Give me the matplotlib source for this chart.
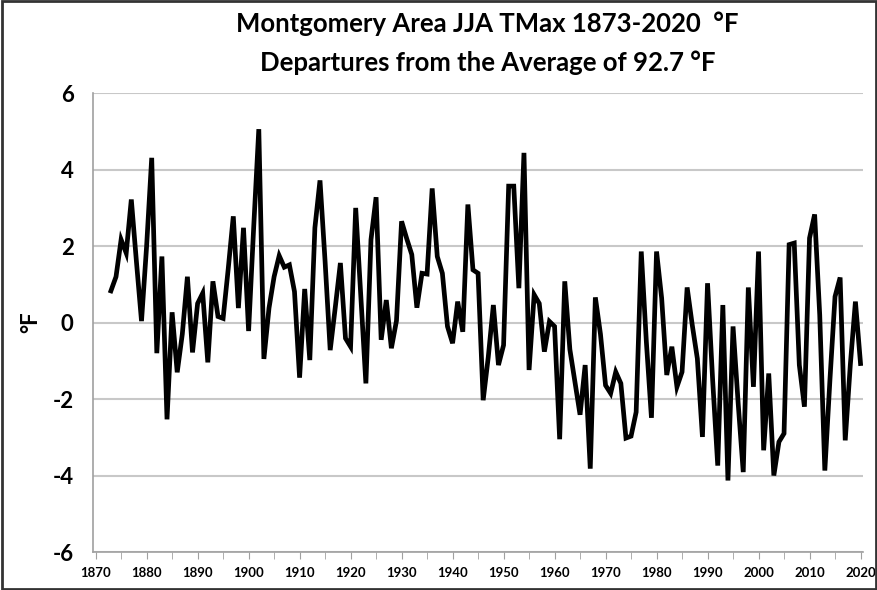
import matplotlib.pyplot as plt
from matplotlib.patches import Rectangle
from matplotlib.ticker import MultipleLocator

# JJA TMax departures (deg F)
years = list(range(1873, 2021))
dep_1873_1909 = [0.83, 1.2, 2.17, 1.82, 3.22, 1.6, 0.04, 2.0, 4.31, -0.8,
                 1.73, -2.53, 0.27, -1.3, -0.3, 1.2, -0.78, 0.5, 0.77, -1.04,
                 1.08, 0.16, 0.11, 1.4, 2.78, 0.38, 2.48, -0.22, 2.5, 5.06,
                 -0.95, 0.38, 1.2, 1.75, 1.45, 1.51, 0.81]
dep_1910_1945 = [-1.44, 0.88, -0.98, 2.48, 3.72, 1.6, -0.72, 0.4, 1.56, -0.41,
                 -0.63, 3.0, 0.7, -1.59, 2.17, 3.28, -0.45, 0.59, -0.67, 0.05,
                 2.65, 2.2, 1.78, 0.39, 1.29, 1.27, 3.51, 1.73, 1.29, -0.1,
                 -0.54, 0.55, -0.24, 3.09, 1.38, 1.29]
dep_1946_1982 = [-2.03, -0.9, 0.46, -1.11, -0.59, 3.57, 3.57, 0.9, 4.44, -1.24,
                 0.73, 0.5, -0.76, 0.03, -0.1, -3.05, 1.08, -0.7, -1.55, -2.41,
                 -1.11, -3.82, 0.66, -0.3, -1.64, -1.85, -1.29, -1.59, -3.02, -2.97,
                 -2.34, 1.86, -0.5, -2.49, 1.86, 0.64, -1.37]
dep_1983_2020 = [-0.63, -1.68, -1.29, 0.92, -0.06, -0.94, -2.99, 1.03, -1.5, -3.74,
                 0.46, -4.13, -0.1, -2.1, -3.91, 0.92, -1.68, 1.86, -3.34, -1.33,
                 -4.0, -3.12, -2.9, 2.04, 2.08, -1.11, -2.2, 2.21, 2.83, 0.2,
                 -3.87, -1.5, 0.68, 1.18, -3.08, -1.1, 0.55, -1.07]
departures = dep_1873_1909 + dep_1910_1945 + dep_1946_1982 + dep_1983_2020

x_ticks = list(range(1870, 2021, 10))
y_ticks = list(range(-6, 7, 2))

plt.rcParams['font.family'] = ['Lato', 'DejaVu Sans']

fig = plt.figure(figsize=(8.78, 5.9), dpi=100)
ax = fig.add_axes([0.106, 0.0644, 0.877, 0.7776])

ax.plot(years, departures, color="black", linewidth=3.4, solid_joinstyle="miter")

ax.set_xlim(1869.5, 2020.5)
ax.set_ylim(-6, 6)
ax.set_xticks(x_ticks)
ax.xaxis.set_minor_locator(MultipleLocator(5))
ax.set_yticks(y_ticks)
ax.set_xticklabels([str(t) for t in x_ticks], fontsize=9.5, fontweight="bold")
ax.set_yticklabels([str(t) for t in y_ticks], fontsize=16, fontweight="bold")
ax.tick_params(axis="x", which="both", direction="out", length=5, color="#a0a0a0", pad=6)
ax.tick_params(axis="y", length=0, pad=14)

ax.grid(axis="y", color="#c8c8c8", linewidth=1.5)
ax.set_axisbelow(True)
for side in ["top", "right"]:
    ax.spines[side].set_visible(False)
ax.spines["left"].set_color("#a0a0a0")
ax.spines["bottom"].set_color("#a0a0a0")
ax.spines["left"].set_linewidth(1.2)
ax.spines["bottom"].set_linewidth(1.2)

ax.set_ylabel("°F", fontsize=16, fontweight="bold", labelpad=8)

fig.text(0.555, 0.96, "Montgomery Area JJA TMax 1873-2020  °F",
         ha="center", va="center", fontsize=18.5, fontweight="bold")
fig.text(0.555, 0.893, "Departures from the Average of 92.7 °F",
         ha="center", va="center", fontsize=18.5, fontweight="bold")

# dark frame around the whole picture
fig.patches.append(Rectangle((0.002, 0.002), 0.996, 0.996, transform=fig.transFigure,
                             fill=False, edgecolor="#333333", linewidth=2))

fig.savefig("out.png", dpi=100)
